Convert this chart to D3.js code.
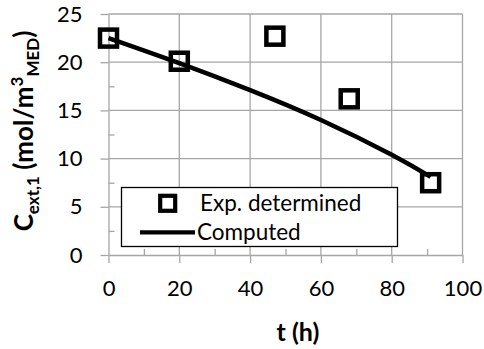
<!DOCTYPE html>
<html>
<head>
<meta charset="utf-8">
<script src="https://cdn.jsdelivr.net/npm/d3@7"></script>
<style>
  html, body { margin: 0; padding: 0; background: #fff; }
  svg { display: block; }
  text { font-family: Lato, "Open Sans", sans-serif; fill: #000; }
</style>
</head>
<body>
<svg id="chart" width="484" height="349"></svg>
<script>
// Measured concentration (points)
const expTime = [0, 20, 47, 68, 91];
const expConc = [22.5, 20.1, 22.7, 16.2, 7.5];

// Model result (line)
const modelTime = [0, 20, 40, 60, 80, 91];
const modelConc = [22.5, 19.9, 17.1, 14.0, 10.4, 8.1];

const xTicks = [0, 20, 40, 60, 80, 100];
const yTicks = [0, 5, 10, 15, 20, 25];
const xMinor = [10, 30, 50, 70, 90];
const yMinor = [2.5, 7.5, 12.5, 17.5, 22.5];

const legendLabels = ["Exp. determined", "Computed"];

const svg = d3.select("#chart");
const gridColor = "#a6a6a6";

const x = d3.scaleLinear().domain([0, 100]).range([108.5, 462.5]);
const y = d3.scaleLinear().domain([0, 25]).range([255, 14]);

// Gridlines
const grid = svg.append("g");
grid.selectAll(".hg").data(yTicks.slice(1)).join("line")
  .attr("x1", x(0)).attr("x2", x(100))
  .attr("y1", d => y(d)).attr("y2", d => y(d))
  .attr("stroke", gridColor).attr("stroke-width", 1.3);
grid.selectAll(".vg").data(xTicks.slice(1)).join("line")
  .attr("x1", d => x(d)).attr("x2", d => x(d))
  .attr("y1", y(0)).attr("y2", y(25))
  .attr("stroke", gridColor).attr("stroke-width", 1.3);

// Axes: major ticks point outward, minor ticks point inward
const xAxis = svg.append("g").attr("transform", `translate(0,${y(0)})`)
  .call(d3.axisBottom(x).tickValues(xTicks).tickSize(8).tickPadding(26).tickSizeOuter(0));
const xAxisMinor = svg.append("g").attr("transform", `translate(0,${y(0)})`)
  .call(d3.axisTop(x).tickValues(xMinor).tickSize(6).tickFormat("").tickSizeOuter(0));
const yAxis = svg.append("g").attr("transform", `translate(${x(0)},0)`)
  .call(d3.axisLeft(y).tickValues(yTicks).tickSize(8).tickPadding(18).tickSizeOuter(0));
const yAxisMinor = svg.append("g").attr("transform", `translate(${x(0)},0)`)
  .call(d3.axisRight(y).tickValues(yMinor).tickSize(6).tickFormat("").tickSizeOuter(0));

[xAxis, xAxisMinor, yAxis, yAxisMinor].forEach(g => {
  g.selectAll("path, line").attr("stroke", gridColor).attr("stroke-width", 1.3);
  g.selectAll("text").attr("font-size", 22).attr("fill", "#000")
    .style("font-family", "Lato, 'Open Sans', sans-serif");
});
xAxisMinor.select(".domain").remove();
yAxisMinor.select(".domain").remove();
xAxis.selectAll("text").attr("dy", "0.32em");

// Model line, smoothed
const line = d3.line()
  .x((d, i) => x(modelTime[i])).y(d => y(d))
  .curve(d3.curveNatural);
svg.append("path").datum(modelConc)
  .attr("d", line)
  .attr("fill", "none").attr("stroke", "#000").attr("stroke-width", 4.5)
  .attr("stroke-linejoin", "round");

// Measured points as open squares
const side = 17;
svg.selectAll(".pt").data(expConc).join("rect")
  .attr("x", (d, i) => x(expTime[i]) - side / 2)
  .attr("y", d => y(d) - side / 2)
  .attr("width", side).attr("height", side)
  .attr("fill", "none").attr("stroke", "#000").attr("stroke-width", 4.5);

// Legend
const lg = svg.append("g");
lg.append("rect").attr("x", 121.5).attr("y", 187.5).attr("width", 276).attr("height", 59)
  .attr("fill", "#fff").attr("stroke", "#000").attr("stroke-width", 1.3);
lg.append("rect").attr("x", 167.7 - 7.5).attr("y", 203.3 - 7.5).attr("width", 15).attr("height", 15)
  .attr("fill", "none").attr("stroke", "#000").attr("stroke-width", 4.2);
lg.append("line").attr("x1", 140).attr("x2", 195).attr("y1", 232.3).attr("y2", 232.3)
  .attr("stroke", "#000").attr("stroke-width", 4.2);
lg.append("text").attr("x", 200).attr("y", 211).attr("font-size", 22.5).text(legendLabels[0]);
lg.append("text").attr("x", 197).attr("y", 240).attr("font-size", 22.5).text(legendLabels[1]);

// Axis titles
svg.append("text").attr("x", 298).attr("y", 341).attr("text-anchor", "middle")
  .attr("font-size", 25).attr("font-weight", "bold").text("t (h)");

const yt = svg.append("text")
  .attr("transform", "translate(33,131) rotate(-90)")
  .attr("text-anchor", "middle")
  .attr("font-size", 26).attr("font-weight", "bold");
yt.append("tspan").text("C");
yt.append("tspan").attr("font-size", 17).attr("dy", 6).text("ext,1");
yt.append("tspan").attr("dy", -6).text(" (mol/m");
yt.append("tspan").attr("font-size", 17).attr("dy", -10).text("3");
yt.append("tspan").attr("font-size", 17).attr("dy", 16).text("MED");
yt.append("tspan").attr("dy", -6).text(")");
</script>
</body>
</html>
